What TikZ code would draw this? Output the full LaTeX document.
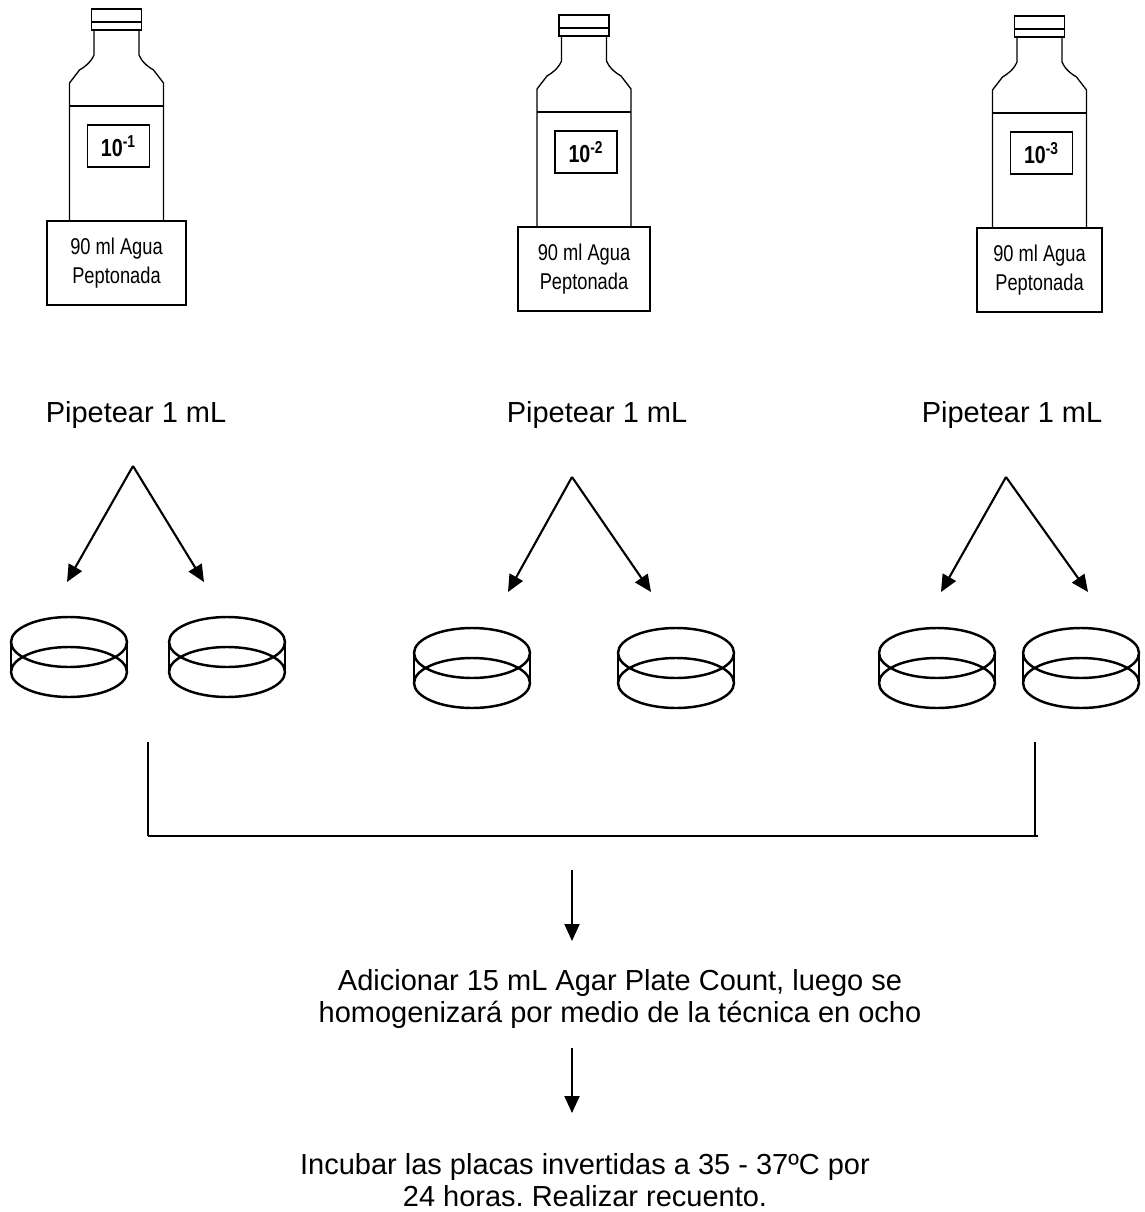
\documentclass[tikz,border=0pt]{standalone}
\usepackage{fontspec}
\setmainfont{Liberation Sans}
\newfontfamily\angosta[FakeStretch=0.8]{Liberation Sans}
\usetikzlibrary{arrows.meta}
\frenchspacing

% Frasco de dilucion y placa Petri
\tikzset{
    pics/frasco/.style n args={2}{code={
        % tapa y rosca
        \draw[linea] (-25,0) rectangle (25,13);
        \draw[linea] (-25,13) rectangle (25,21);
        % cuello, hombros y cuerpo
        \draw[linea] (-22.5,21) -- (-22.5,46) .. controls (-26,54) and (-32,58) .. (-37,61) -- (-47,74) -- (-47,212);
        \draw[linea] (22.5,21) -- (22.5,46) .. controls (26,54) and (32,58) .. (37,61) -- (47,74) -- (47,212);
        \draw[linea] (-47,97) -- (47,97);
        \node[etiqueta] (-etq) at (2,137) {\textbf{10\textsuperscript{-#1}}};
        \node[rotulo, minimum width=#2] (-base) at (0,254) {90 ml Agua\\Peptonada};
    }},
    pics/placa/.style={code={
        \draw[borde] (0,0) ellipse [x radius=1.16cm, y radius=0.5cm];
        \draw[borde] (0,30) ellipse [x radius=1.16cm, y radius=0.5cm];
        \draw[borde] (-58,0) -- (-58,30);
        \draw[borde] (58,0) -- (58,30);
    }}
}

\begin{document}
\begin{tikzpicture}[
        x=0.02cm, y=-0.02cm,
        linea/.style={draw=black, line width=0.75pt},
        borde/.style={draw=black, line width=1.4pt},
        flecha/.style={-{Triangle[length=0.34cm, width=0.3cm]}, line width=1.2pt},
        texto/.style={font=\fontsize{16.5}{18.5}\selectfont, align=center, inner sep=0pt},
        etiqueta/.style={rectangle, draw, line width=0.75pt, minimum width=1.24cm, minimum height=0.84cm, font=\angosta\fontsize{14}{16}\selectfont},
        rotulo/.style={rectangle, draw, line width=0.75pt, minimum height=1.68cm, align=center, font=\angosta\fontsize{13}{16.4}\selectfont}
    ]
    \useasboundingbox (0,0) rectangle (1144,1212);

    % 1. Frascos de dilucion
    \pic (f1) at (116.5,9) {frasco={1}{2.78cm}};
    \pic (f2) at (584,15) {frasco={2}{2.64cm}};
    \pic (f3) at (1039.5,16) {frasco={3}{2.5cm}};

    % 2. Pipetear
    \node[texto] (pip1) at (136,415) {Pipetear 1 mL};
    \node[texto] (pip2) at (597,415) {Pipetear 1 mL};
    \node[texto] (pip3) at (1012,415) {Pipetear 1 mL};

    \coordinate (v1) at (133,466);
    \coordinate (v2) at (572,477);
    \coordinate (v3) at (1006,477);
    \coordinate (p1a) at (67,582);
    \coordinate (p1b) at (204,582);
    \coordinate (p2a) at (508,592);
    \coordinate (p2b) at (651,592);
    \coordinate (p3a) at (941,592);
    \coordinate (p3b) at (1088,592);

    \draw[flecha] (v1) -- (p1a);
    \draw[flecha] (v1) -- (p1b);
    \draw[flecha] (v2) -- (p2a);
    \draw[flecha] (v2) -- (p2b);
    \draw[flecha] (v3) -- (p3a);
    \draw[flecha] (v3) -- (p3b);

    % 3. Placas por duplicado
    \pic at (69,642) {placa};
    \pic at (227,642) {placa};
    \pic at (472,653) {placa};
    \pic at (676,653) {placa};
    \pic at (937,653) {placa};
    \pic at (1081,653) {placa};

    % 4. Agrupar placas
    \coordinate (ci) at (148,742);
    \coordinate (cd) at (1035,742);
    \draw[line width=0.8pt] (ci) -- (148,836);
    \draw[line width=0.8pt] (cd) -- (1035,836);
    \draw[line width=1.2pt] (148,836) -- (1038,836);

    % 5. Agar e incubacion
    \node[texto] (agar) at (620,999) {Adicionar 15 mL Agar Plate Count, luego se\\homogenizará por medio de la técnica en ocho};
    \node[texto] (incub) at (585,1180) {Incubar las placas invertidas a 35 - 37ºC por\\24 horas. Realizar recuento.};

    \coordinate (s1) at (572,870);
    \coordinate (e1) at (572,941);
    \coordinate (s2) at (572,1048);
    \coordinate (e2) at (572,1113);
    \draw[flecha] (s1) -- (e1);
    \draw[flecha] (s2) -- (e2);

\end{tikzpicture}
\end{document}
